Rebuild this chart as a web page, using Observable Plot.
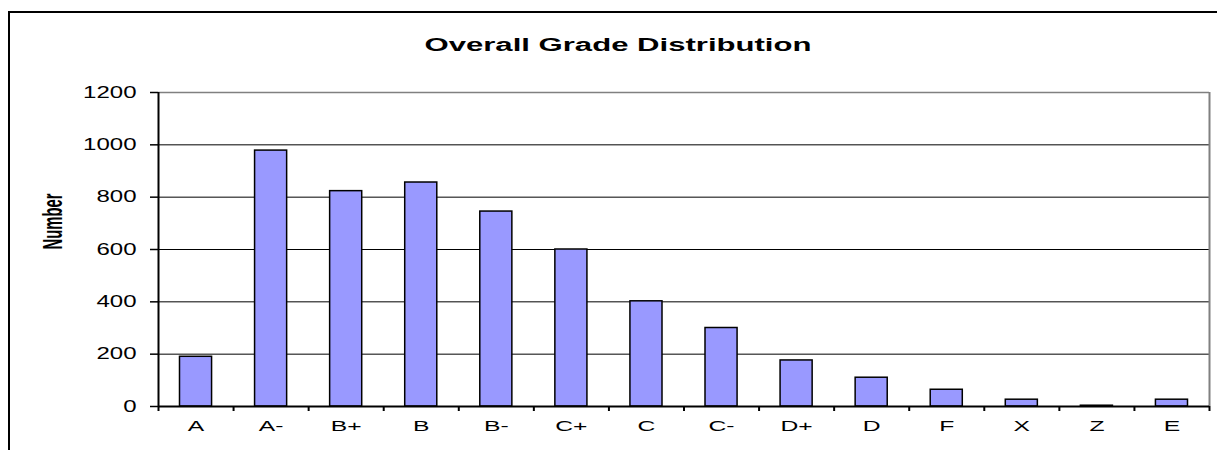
<!DOCTYPE html>
<html><head><meta charset="utf-8">
<script src="https://cdn.jsdelivr.net/npm/d3@7"></script>
<script src="https://cdn.jsdelivr.net/npm/@observablehq/plot@0.6"></script>
<style>
body{margin:0;background:#fff;}
#wrap{position:relative;width:1217px;height:450px;overflow:hidden;background:#fff;}
#frame{position:absolute;left:8px;top:11px;width:1300px;height:500px;border-left:2px solid #000;border-top:2px solid #000;}
#wrap svg{position:absolute;left:0;top:0;}
</style></head><body><div id="wrap"><div id="frame"></div></div>
<script>
const title = "Overall Grade Distribution";
const yLabel = "Number";
const grades = ["A","A-","B+","B","B-","C+","C","C-","D+","D","F","X","Z","E"];
const counts = [190, 978, 823, 856, 745, 600, 402, 300, 176, 110, 64, 26, 3, 26];
const yTicks = [0, 200, 400, 600, 800, 1000, 1200];

const data = grades.map((g, i) => ({grade: g, index: i, count: counts[i]}));
const font = "'Liberation Sans', Arial, sans-serif";

const chart = Plot.plot({
  width: 1217, height: 450,
  marginLeft: 158, marginRight: 8, marginTop: 92, marginBottom: 44,
  style: {fontFamily: font, background: "transparent", color: "#000", overflow: "visible"},
  x: {type: "linear", domain: [0, grades.length], axis: null},
  y: {domain: [0, 1200], axis: null},
  marks: [
    Plot.ruleY(yTicks.slice(1, -1), {stroke: "#000", strokeWidth: 1}),
    Plot.ruleY([yTicks[yTicks.length - 1]], {stroke: "#808080", strokeWidth: 1.5}),
    Plot.ruleX([grades.length], {stroke: "#808080", strokeWidth: 2}),
    Plot.rectY(data, {x1: "index", x2: d => d.index + 1, y1: 0, y2: "count",
      insetLeft: 21.5, insetRight: 21.5, fill: "#9999ff", stroke: "#000", strokeWidth: 1.5}),
    Plot.ruleY([0], {stroke: "#000", strokeWidth: 2}),
    Plot.ruleX([0], {stroke: "#000", strokeWidth: 2}),
    Plot.axisY({ticks: yTicks, tickSize: 8, tickPadding: 14, fontSize: 16,
      tickFormat: d => String(d), strokeWidth: 1.5, label: null}),
    Plot.axisX({ticks: d3.range(grades.length + 1), tickSize: 5, tickFormat: () => "",
      strokeWidth: 2, label: null}),
    Plot.axisX({ticks: grades.map((g, i) => i + 0.5), tickSize: 0, tickPadding: 14, fontSize: 14.5,
      tickFormat: t => grades[Math.floor(t)], label: null}),
    Plot.text([title], {frameAnchor: "top", dx: -66, dy: -54, fontSize: 18, fontWeight: "bold"}),
    Plot.text([yLabel], {frameAnchor: "left", dx: -105, rotate: -90, fontSize: 27, fontWeight: "bold"})
  ]
});
document.getElementById("wrap").append(chart);

function stretch(el, opt) {
  const len = el.getComputedTextLength();
  if (!len) return;
  const target = opt.length != null ? opt.length : len * opt.factor;
  el.setAttribute("textLength", target);
  el.setAttribute("lengthAdjust", "spacingAndGlyphs");
}
chart.querySelectorAll('g[aria-label="y-axis tick label"] text').forEach(t => stretch(t, {factor: 1.5}));
chart.querySelectorAll('g[aria-label="x-axis tick label"] text').forEach(t => stretch(t, {factor: 1.7}));
chart.querySelectorAll('g[aria-label="text"] text').forEach(t => {
  if (t.textContent === title) stretch(t, {length: 387});
  else if (t.textContent === yLabel) stretch(t, {length: 56});
});
</script></body></html>
